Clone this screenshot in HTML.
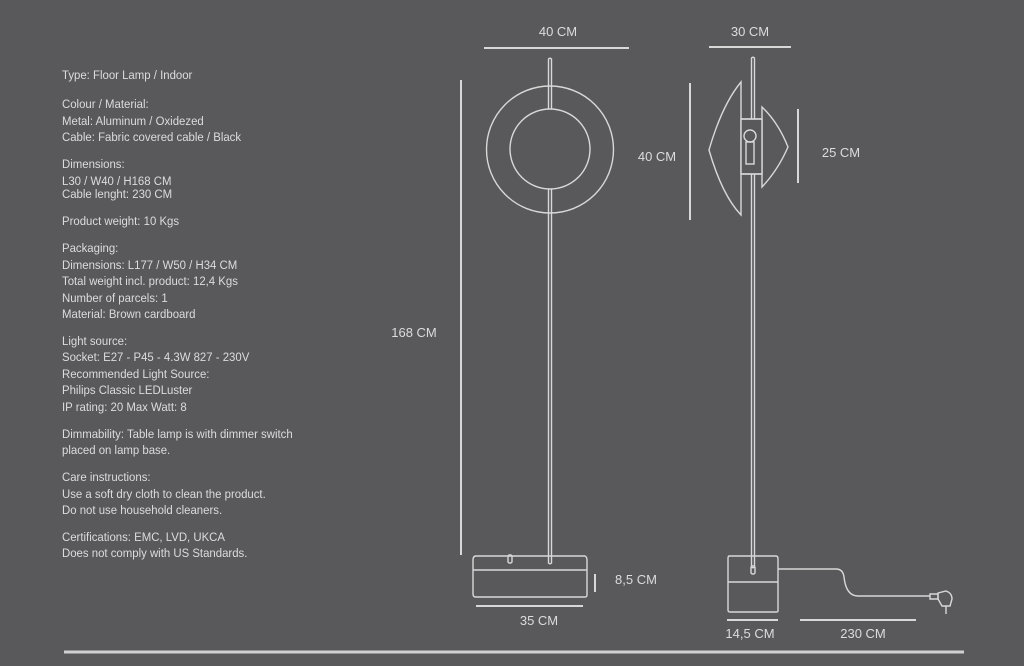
<!DOCTYPE html>
<html><head><meta charset="utf-8"><style>
html,body{margin:0;padding:0;background:#59595b;}
svg{display:block}
text{font-family:"Liberation Sans",sans-serif;fill:#dcdcdc;}
</style></head><body>
<svg width="1024" height="666" viewBox="0 0 1024 666" xmlns="http://www.w3.org/2000/svg">
<rect width="1024" height="666" fill="#59595b"/>
<g transform="translate(62,0) scale(0.95,1)" font-size="12">
<text x="0" y="79">Type: Floor Lamp / Indoor</text>
<text x="0" y="108">Colour / Material:</text>
<text x="0" y="125">Metal: Aluminum  / Oxidezed</text>
<text x="0" y="141">Cable: Fabric covered cable / Black</text>
<text x="0" y="168">Dimensions:</text>
<text x="0" y="185">L30 / W40 / H168 CM</text>
<text x="0" y="198">Cable lenght: 230 CM</text>
<text x="0" y="225">Product weight: 10 Kgs</text>
<text x="0" y="252">Packaging:</text>
<text x="0" y="269">Dimensions: L177 / W50 / H34 CM</text>
<text x="0" y="285">Total weight incl. product: 12,4 Kgs</text>
<text x="0" y="302">Number of parcels: 1</text>
<text x="0" y="318">Material: Brown cardboard</text>
<text x="0" y="345">Light source:</text>
<text x="0" y="361">Socket: E27 - P45 - 4.3W 827 - 230V</text>
<text x="0" y="378">Recommended Light Source:</text>
<text x="0" y="394">Philips Classic LEDLuster</text>
<text x="0" y="411">IP rating: 20 Max Watt: 8</text>
<text x="0" y="438">Dimmability: Table lamp is with dimmer switch</text>
<text x="0" y="454">placed on lamp base.</text>
<text x="0" y="481">Care instructions:</text>
<text x="0" y="498">Use a soft dry cloth to clean the product.</text>
<text x="0" y="514">Do not use household cleaners.</text>
<text x="0" y="541">Certifications: EMC, LVD, UKCA</text>
<text x="0" y="557">Does not comply with US Standards.</text>
</g>
<g font-size="13" text-anchor="middle">
<text x="558" y="36">40 CM</text>
<text x="750" y="36">30 CM</text>
<text x="414" y="337">168 CM</text>
<text x="657" y="161">40 CM</text>
<text x="841" y="157">25 CM</text>
<text x="636" y="584">8,5 CM</text>
<text x="539" y="625">35 CM</text>
<text x="750" y="638">14,5 CM</text>
<text x="863" y="638">230 CM</text>
</g>
<g stroke="#d8d8d8" fill="none" stroke-width="1.4">
<line x1="484" y1="48" x2="629" y2="48" stroke-width="2"/>
<line x1="709" y1="47" x2="791" y2="47" stroke-width="2"/>
<line x1="461" y1="80" x2="461" y2="555" stroke-width="2"/>
<line x1="690" y1="83" x2="690" y2="220" stroke-width="2"/>
<line x1="798" y1="109" x2="798" y2="183" stroke-width="2"/>
<line x1="595" y1="574" x2="595" y2="592" stroke-width="2"/>
<line x1="476" y1="606" x2="583" y2="606" stroke-width="2"/>
<line x1="727" y1="620" x2="778" y2="620" stroke-width="2"/>
<line x1="800" y1="620" x2="916" y2="620" stroke-width="2"/>
<circle cx="550" cy="149.5" r="63.5"/>
<circle cx="550" cy="149" r="40"/>
<path d="M548.5 109 V59 Q550 57.5 551.5 59 V109"/>
<path d="M548.5 189 V213"/><path d="M551.5 189 V213"/>
<path d="M548.5 213 V563 Q550 564.5 551.5 563 V213"/>
<path d="M475 556 L585 556 Q587 557 587 560 V595 Q587 597 585 597 H476 Q473 597 473 594 V560 Q473 556 476 556 Z"/>
<line x1="473" y1="570" x2="587" y2="570"/>
<rect x="508" y="555" width="4" height="8" rx="1.5"/>
<path d="M751.5 58 V567 Q753 568.5 754.5 567 V58 Q753 56.5 751.5 58Z"/>
<path d="M741 82 V215 Q722 195 709 150 Q722 105 741 82Z"/>
<path d="M762 107 V187 Q778 170 788 147 Q778 122 762 107Z"/>
<rect x="741" y="119" width="21" height="55" fill="#59595b"/>
<line x1="741" y1="119" x2="762" y2="119"/><line x1="741" y1="174" x2="762" y2="174"/>
<circle cx="750" cy="136" r="6"/>
<rect x="746" y="142" width="8" height="22"/>
<path d="M729 556 H776 Q778 556 778 559 V611 Q778 612 776 612 H730 Q728 612 728 610 V559 Q728 556 729 556Z"/>
<line x1="728" y1="582" x2="778" y2="582"/>
<rect x="751" y="566" width="4" height="8" rx="1.5"/>
<path d="M778 569 H836 Q843 569 844 577 Q846 596 858 596 H930"/>
<path d="M930 594 H938 V599 H930 Z"/>
<path d="M938 593 L946 591 Q952 593 952 599 L950 606 H942 L938 599 Z"/>
<line x1="946" y1="606" x2="946" y2="614"/>
</g>
<line x1="64" y1="652" x2="964" y2="652" stroke="#d0d0d0" stroke-width="3"/>
</svg>
</body></html>
